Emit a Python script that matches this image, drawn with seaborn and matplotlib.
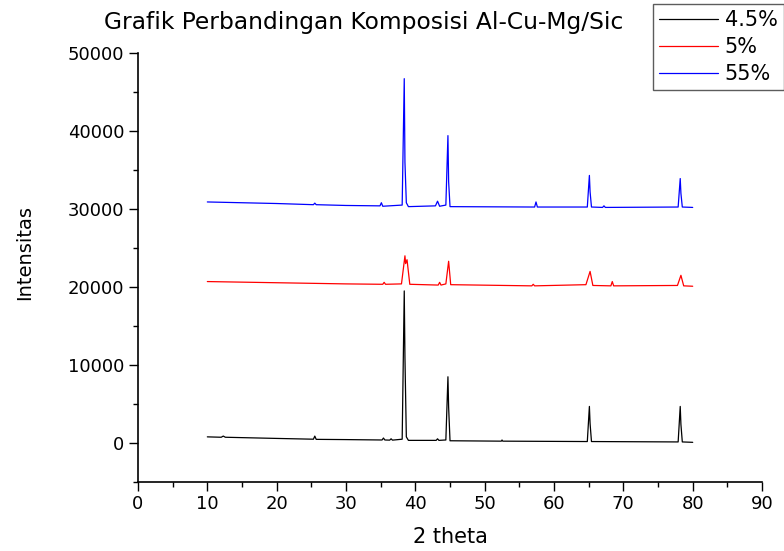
import matplotlib
matplotlib.use('Agg')
import matplotlib.pyplot as plt
import seaborn as sns
import pandas as pd
from matplotlib.ticker import MultipleLocator

# 2 theta positions and intensities (offset stacked patterns)
theta_45 = [10, 12, 12.3, 12.6, 20, 25.3, 25.5, 25.7, 30, 35.2, 35.4, 35.6, 36.3, 36.5, 36.7,
            38.1, 38.4, 38.5, 38.7, 39.0, 43.0, 43.2, 43.4, 44.4, 44.7, 44.8, 45.0,
            52.4, 52.5, 52.6, 64.8, 65.1, 65.2, 65.4, 77.9, 78.2, 78.3, 78.5, 80]
int_45 = [800, 750, 900, 750, 600, 500, 900, 480, 450, 400, 650, 400, 380, 550, 380,
          500, 19500, 11000, 800, 350, 350, 550, 350, 400, 8500, 4600, 300,
          250, 400, 250, 200, 4700, 2500, 200, 150, 4700, 2400, 150, 100]

theta_5 = [10, 20, 30, 35.3, 35.5, 35.7, 38.0, 38.5, 38.6, 38.8, 39.2, 43.3, 43.5, 43.7,
           44.4, 44.8, 45.1, 56.8, 57.0, 57.2, 64.6, 65.2, 65.6, 68.2, 68.4, 68.6,
           77.8, 78.3, 78.7, 80]
int_5 = [20700, 20550, 20400, 20350, 20600, 20350, 20400, 24000, 23000, 23500, 20350, 20250, 20600, 20250,
         20400, 23300, 20300, 20150, 20350, 20150, 20300, 22000, 20200, 20150, 20700, 20150,
         20200, 21500, 20150, 20100]

theta_55 = [10, 20, 25.3, 25.5, 25.7, 30, 34.9, 35.1, 35.3, 38.1, 38.4, 38.5, 38.7, 39.0,
            42.9, 43.2, 43.5, 44.4, 44.7, 44.8, 45.0, 57.2, 57.4, 57.6, 64.8, 65.1, 65.2, 65.4,
            67.0, 67.2, 67.4, 77.9, 78.2, 78.3, 78.5, 80]
int_55 = [30900, 30700, 30550, 30750, 30550, 30450, 30400, 30800, 30350, 30500, 46700, 36000, 30800, 30300,
          30400, 31000, 30350, 30500, 39400, 33500, 30300, 30250, 30900, 30250, 30250, 34300, 32200, 30250,
          30200, 30400, 30200, 30250, 33900, 32000, 30250, 30200]

labels = ['4.5%', '5%', '55%']
colors = ['black', 'red', 'blue']

df = pd.concat([
    pd.DataFrame({'theta': theta_45, 'intensity': int_45, 'sample': '4.5%'}),
    pd.DataFrame({'theta': theta_5, 'intensity': int_5, 'sample': '5%'}),
    pd.DataFrame({'theta': theta_55, 'intensity': int_55, 'sample': '55%'}),
])

sns.set_style('ticks')
plt.rcParams['font.family'] = ['DejaVu Sans']
plt.rcParams['text.color'] = 'black'
plt.rcParams['axes.labelcolor'] = 'black'
plt.rcParams['xtick.color'] = 'black'
plt.rcParams['ytick.color'] = 'black'
plt.rcParams['axes.edgecolor'] = 'black'

fig = plt.figure(figsize=(7.84, 5.51), dpi=100)
ax = fig.add_axes([0.176, 0.125, 0.796, 0.779])

sns.lineplot(data=df, x='theta', y='intensity', hue='sample', hue_order=labels,
             palette=dict(zip(labels, colors)), estimator=None, sort=False,
             linewidth=0.9, ax=ax, legend=False)

ax.set_xlim(0, 90)
ax.set_ylim(-5000, 50000)
ax.xaxis.set_major_locator(MultipleLocator(10))
ax.xaxis.set_minor_locator(MultipleLocator(5))
ax.yaxis.set_minor_locator(MultipleLocator(5000))
ax.set_yticks(range(0, 50001, 10000))
ax.tick_params(axis='both', which='major', labelsize=13, length=6.5, width=1, direction='out')
ax.tick_params(axis='both', which='minor', length=3.5, width=1, direction='out')
ax.tick_params(axis='x', which='major', pad=3)
for side in ['top', 'right']:
    ax.spines[side].set_visible(False)
for side in ['left', 'bottom']:
    ax.spines[side].set_linewidth(1.2)

ax.set_xlabel('2 theta', fontsize=15, labelpad=10)
ax.set_ylabel('Intensitas', fontsize=14, labelpad=24)
ax.yaxis.label.set_y(0.535)

fig.text(0.464, 0.947, 'Grafik Perbandingan Komposisi Al-Cu-Mg/Sic', fontsize=16.8,
         ha='center', va='baseline')

handles = [plt.Line2D([], [], color=c, linewidth=0.9) for c in colors]
leg = fig.legend(handles, labels, loc='upper left', bbox_to_anchor=(0.833, 0.993),
                 fontsize=15, frameon=True, fancybox=False, handlelength=2.8,
                 handletextpad=0.33, borderpad=0.3, labelspacing=0.33, borderaxespad=0)
leg.get_frame().set_edgecolor('#333333')
leg.get_frame().set_linewidth(1.0)

fig.savefig('out.png', dpi=100)
